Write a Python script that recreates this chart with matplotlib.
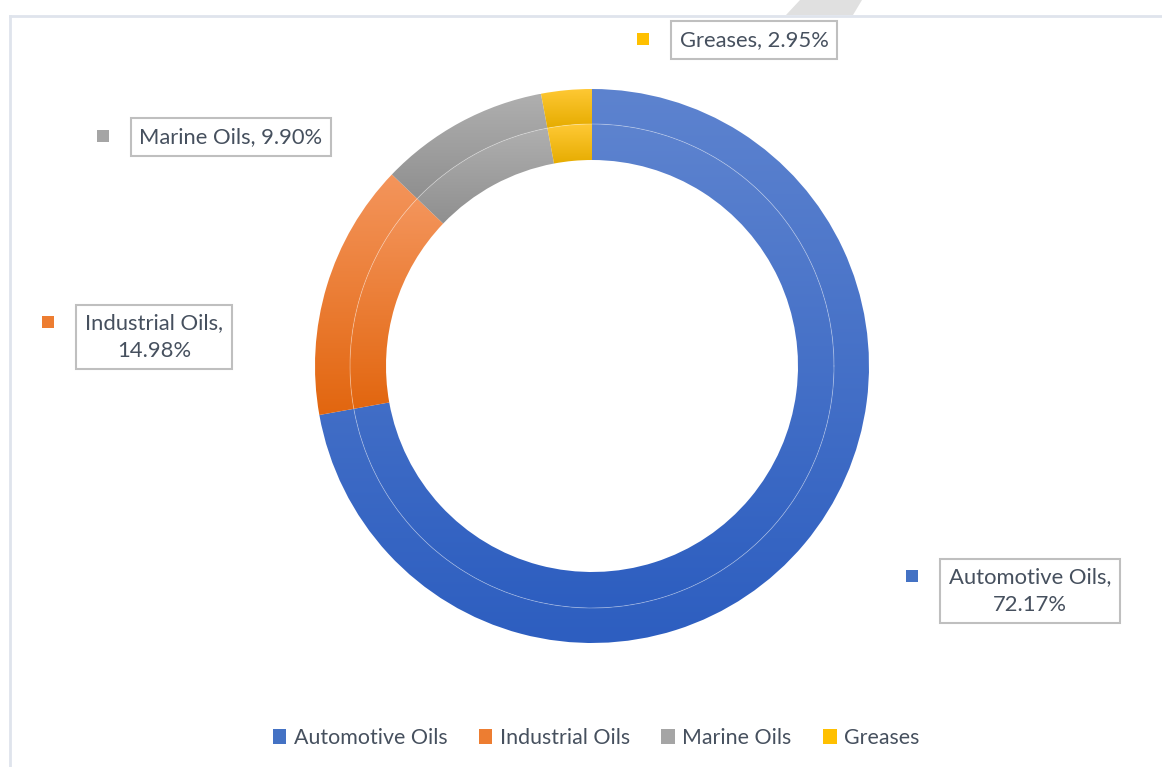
import numpy as np
import matplotlib
matplotlib.use("Agg")
import matplotlib.pyplot as plt
from matplotlib.patches import Rectangle, Polygon
from matplotlib.colors import LinearSegmentedColormap

# data
categories = ["Automotive Oils", "Industrial Oils", "Marine Oils", "Greases"]
shares = [72.17, 14.98, 9.90, 2.95]
label_texts = ["Automotive Oils,\n72.17%", "Industrial Oils,\n14.98%",
               "Marine Oils, 9.90%", "Greases, 2.95%"]

# light (top) / dark (bottom) per slice
tops = ["#5d83cf", "#f4955c", "#afafaf", "#ffc935"]
bottoms = ["#2d5ec0", "#e2660f", "#8f8f8f", "#e6ac00"]
mids = ["#4472c4", "#ed7d31", "#a5a5a5", "#ffc000"]

W, H = 1162, 767
txt_col = "#46505e"
plt.rcParams["font.family"] = ["Lato", "DejaVu Sans"]


def fx(x):
    return x / W


def fy(y):
    return 1 - y / H


fig = plt.figure(figsize=(W / 100, H / 100), dpi=100)

# chart frame (top + left edge only visible)
fig.add_artist(plt.Line2D([fx(10), 1], [fy(16), fy(16)], color="#dfe4ec", lw=2))
fig.add_artist(plt.Line2D([fx(10), fx(10)], [fy(16), 0], color="#dfe4ec", lw=2))
fig.add_artist(Polygon([[fx(786), fy(15)], [fx(853), fy(15)], [fx(862), fy(0)], [fx(800), fy(0)]],
                       closed=True, transform=fig.transFigure, facecolor="#e0e0e0", edgecolor="none"))

cx, cy, R = 592, 366, 277
ax = fig.add_axes([fx(cx - R), fy(cy + R), 2 * R / W, 2 * R / H])

r_mid = 242 / 277
r_in = 206 / 277
rings = [(1.0, 1.0 - r_mid), (r_mid, r_mid - r_in)]
for radius, width in rings:
    wedges, _ = ax.pie(shares, radius=radius, startangle=90, counterclock=False,
                       wedgeprops=dict(width=width, linewidth=0))
    for i, w in enumerate(wedges):
        w.set_facecolor("none")
        ext = w.get_path().get_extents(w.get_patch_transform())
        cmap = LinearSegmentedColormap.from_list("g", [bottoms[i], tops[i]])
        grad = np.linspace(0, 1, 256).reshape(-1, 1)
        im = ax.imshow(grad, cmap=cmap, origin="lower", aspect="auto",
                       extent=[ext.x0, ext.x1, ext.y0, ext.y1], interpolation="bilinear")
        im.set_clip_path(w)

th = np.linspace(0, 2 * np.pi, 400)
ax.plot(r_mid * np.cos(th), r_mid * np.sin(th), color="white", lw=0.6, alpha=0.35)
ax.set_xlim(-1, 1)
ax.set_ylim(-1, 1)
ax.set_aspect("auto")
ax.axis("off")

# data labels with legend keys
label_pos = [(1030, 591), (154, 337), (231, 137), (754, 40)]
key_pos = [(912, 576), (48, 322), (103, 136), (643, 39)]
for i in range(len(categories)):
    lx, ly = label_pos[i]
    fig.text(fx(lx), fy(ly), label_texts[i], ha="center", va="center", fontsize=15.8,
             color=txt_col, linespacing=1.45,
             bbox=dict(boxstyle="square,pad=0.4", facecolor="white", edgecolor="#bfbfbf", lw=1.5))
    kx, ky = key_pos[i]
    fig.add_artist(Rectangle((fx(kx - 6), fy(ky + 6)), 12 / W, 12 / H, transform=fig.transFigure,
                             facecolor=mids[i], edgecolor="none"))

# legend
handles = [Rectangle((0, 0), 1, 1, facecolor=c, edgecolor="none") for c in mids]
leg = fig.legend(handles, categories, loc="center", bbox_to_anchor=(fx(596), fy(738)), ncol=4,
                 frameon=False, fontsize=15.4, handlelength=0.65, handleheight=0.65,
                 handletextpad=0.35, columnspacing=1.45, labelcolor=txt_col)

fig.savefig("out.png", dpi=100, facecolor="white")
